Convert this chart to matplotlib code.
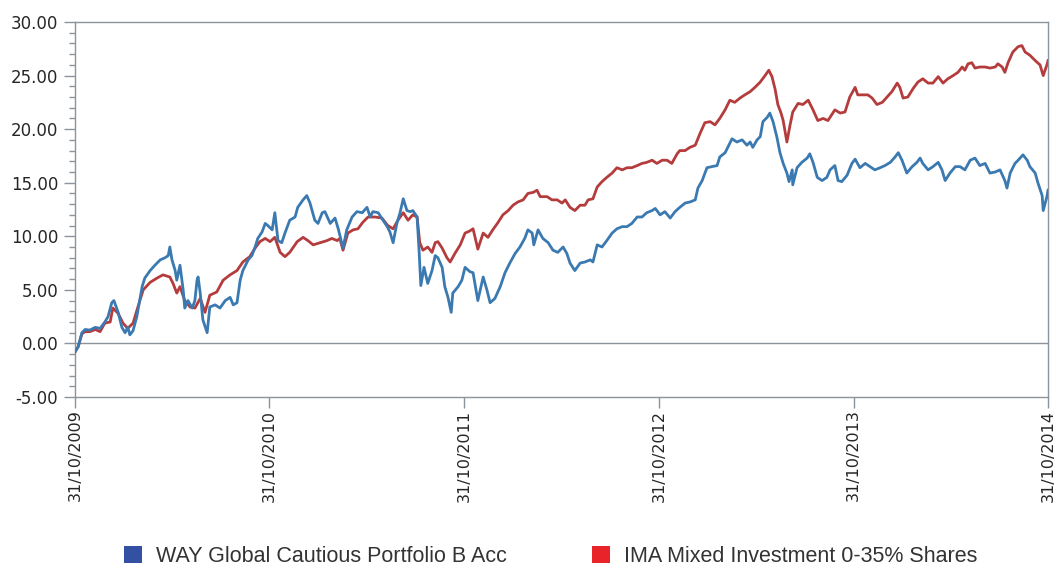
import datetime as dt
import matplotlib
matplotlib.use("Agg")
import matplotlib.pyplot as plt
from matplotlib.patches import Patch
from matplotlib.ticker import MultipleLocator, FuncFormatter

start_date = dt.date(2009, 10, 31)
tick_labels = ["31/10/2009", "31/10/2010", "31/10/2011", "31/10/2012", "31/10/2013", "31/10/2014"]
tick_dates = [dt.date(2009, 10, 31), dt.date(2010, 10, 31), dt.date(2011, 10, 31),
              dt.date(2012, 10, 31), dt.date(2013, 10, 31), dt.date(2014, 10, 31)]

series_names = ["WAY Global Cautious Portfolio B Acc", "IMA Mixed Investment 0-35% Shares"]

# days after 31/10/2009 and cumulative % performance
way_days = [0, 6, 13, 19, 28, 38, 47, 56, 62, 69, 73, 81, 88, 94, 99, 103, 109, 116, 126, 131,
            141, 150, 160, 169, 175, 178, 182, 188, 191, 197, 203, 206, 212, 220, 225, 229, 231, 235, 240, 248,
            253, 263, 272, 282, 291, 297, 304, 310, 315, 325, 332, 338, 343, 351, 357, 362, 370, 375, 381, 388,
            394, 403, 413, 418, 428, 435, 441, 450, 456, 464, 469, 479, 488, 494, 503, 510, 520, 529, 539, 548,
            554, 559, 569, 578, 586, 591, 597, 604, 610, 616, 623, 629, 634, 642, 646, 649, 655, 662, 670, 676,
            681, 689, 694, 700, 706, 709, 719, 726, 732, 741, 747, 756, 766, 773, 779, 788, 798, 807, 816, 826,
            835, 844, 850, 858, 861, 869, 878, 888, 897, 906, 916, 923, 929, 938, 948, 957, 967, 972, 980, 989,
            998, 1008, 1017, 1027, 1036, 1045, 1055, 1064, 1073, 1083, 1089, 1098, 1107, 1117, 1126, 1135, 1145, 1154, 1164, 1169,
            1177, 1186, 1195, 1205, 1210, 1220, 1225, 1233, 1242, 1252, 1261, 1267, 1272, 1280, 1286, 1291, 1299, 1304, 1310, 1317,
            1323, 1329, 1336, 1340, 1346, 1347, 1355, 1364, 1374, 1379, 1385, 1393, 1402, 1411, 1417, 1426, 1432, 1439, 1449, 1458,
            1464, 1473, 1483, 1492, 1501, 1511, 1520, 1530, 1539, 1545, 1552, 1561, 1571, 1580, 1586, 1591, 1601, 1610, 1620, 1627,
            1633, 1642, 1652, 1661, 1670, 1680, 1689, 1698, 1708, 1717, 1727, 1736, 1745, 1749, 1755, 1764, 1770, 1779, 1787, 1792,
            1802, 1807, 1815, 1817, 1824, 1826]
way_values = [-0.8, -0.3, 1.0, 1.3, 1.25, 1.5, 1.4, 2.0, 2.5, 3.8, 4.0, 2.9, 1.5, 1.0, 1.5, 0.8, 1.2, 2.5, 5.3, 6.1,
              6.8, 7.3, 7.8, 8.0, 8.2, 9.0, 7.8, 6.8, 5.9, 7.3, 5.0, 3.3, 4.0, 3.3, 4.0, 5.9, 6.2, 4.7, 2.2, 1.0,
              3.4, 3.6, 3.3, 4.0, 4.3, 3.6, 3.8, 5.9, 6.8, 7.8, 8.2, 9.0, 9.8, 10.4, 11.2, 11.0, 10.6, 12.2, 9.6, 9.4,
              10.3, 11.5, 11.8, 12.7, 13.4, 13.8, 13.1, 11.5, 11.2, 12.2, 12.3, 11.2, 11.7, 10.7, 8.9, 10.6, 11.8, 12.3, 12.2, 12.7,
              11.8, 12.3, 12.2, 11.5, 10.9, 10.4, 9.4, 11.2, 12.2, 13.5, 12.4, 12.3, 12.4, 11.8, 8.4, 5.4, 7.1, 5.6, 6.8, 8.2,
              8.0, 7.1, 5.3, 4.3, 2.9, 4.7, 5.3, 5.9, 7.1, 6.7, 6.6, 4.0, 6.2, 5.0, 3.8, 4.2, 5.3, 6.6, 7.5, 8.4,
              9.0, 9.8, 10.6, 10.3, 9.2, 10.6, 9.8, 9.4, 8.7, 8.5, 9.0, 8.4, 7.5, 6.8, 7.5, 7.6, 7.8, 7.6, 9.2, 9.0,
              9.6, 10.3, 10.7, 10.9, 10.9, 11.2, 11.8, 11.8, 12.2, 12.4, 12.6, 12.0, 12.3, 11.7, 12.3, 12.7, 13.1, 13.2, 13.4, 14.5,
              15.2, 16.4, 16.5, 16.6, 17.4, 17.8, 18.3, 19.1, 18.8, 19.0, 18.5, 18.8, 18.3, 19.0, 19.3, 20.7, 21.1, 21.5, 20.7, 19.3,
              17.8, 16.8, 15.9, 15.1, 16.2, 14.8, 16.4, 16.9, 17.3, 17.7, 16.9, 15.5, 15.2, 15.5, 16.2, 16.6, 15.2, 15.1, 15.7, 16.8,
              17.2, 16.4, 16.8, 16.5, 16.2, 16.4, 16.6, 16.9, 17.4, 17.8, 17.1, 15.9, 16.5, 16.9, 17.3, 16.8, 16.2, 16.5, 16.9, 16.2,
              15.2, 15.9, 16.5, 16.5, 16.2, 17.1, 17.3, 16.6, 16.8, 15.9, 16.0, 16.2, 15.2, 14.5, 15.9, 16.8, 17.1, 17.6, 17.1, 16.5,
              15.9, 15.0, 13.8, 12.4, 13.7, 14.3]

ima_days = [0, 6, 13, 19, 28, 38, 47, 56, 66, 71, 81, 90, 99, 109, 118, 128, 141, 154, 165, 178,
            184, 191, 197, 206, 216, 225, 235, 244, 253, 266, 278, 291, 304, 315, 328, 338, 347, 357, 366, 375,
            385, 394, 403, 417, 428, 437, 447, 460, 473, 482, 492, 497, 503, 512, 522, 531, 540, 550, 563, 576,
            587, 597, 606, 616, 625, 634, 642, 647, 653, 662, 670, 676, 681, 689, 698, 704, 713, 723, 732, 741,
            747, 756, 766, 775, 784, 794, 803, 813, 822, 831, 841, 850, 860, 867, 873, 886, 895, 905, 914, 920,
            929, 938, 948, 957, 963, 972, 980, 989, 998, 1008, 1017, 1027, 1036, 1045, 1055, 1064, 1073, 1083, 1092, 1102,
            1111, 1120, 1130, 1135, 1145, 1154, 1164, 1173, 1182, 1192, 1201, 1210, 1220, 1229, 1238, 1248, 1257, 1267, 1276, 1286,
            1295, 1302, 1308, 1314, 1319, 1325, 1329, 1336, 1342, 1347, 1357, 1366, 1376, 1385, 1394, 1404, 1413, 1426, 1436, 1445,
            1454, 1464, 1469, 1479, 1488, 1496, 1505, 1515, 1524, 1533, 1543, 1548, 1554, 1563, 1573, 1582, 1591, 1601, 1610, 1620,
            1629, 1638, 1648, 1657, 1665, 1670, 1676, 1683, 1689, 1698, 1708, 1717, 1727, 1732, 1740, 1745, 1751, 1760, 1770, 1777,
            1783, 1792, 1802, 1811, 1817, 1824, 1826]
ima_values = [-0.8, -0.3, 0.9, 1.1, 1.1, 1.3, 1.1, 1.9, 2.0, 3.3, 2.8, 1.9, 1.4, 1.9, 3.4, 5.0, 5.7, 6.1, 6.4, 6.2,
              5.6, 4.7, 5.3, 4.0, 3.4, 3.3, 4.2, 2.9, 4.5, 4.8, 5.9, 6.4, 6.8, 7.6, 8.1, 8.9, 9.5, 9.8, 9.5, 9.9,
              8.5, 8.1, 8.5, 9.5, 9.9, 9.6, 9.2, 9.4, 9.6, 9.8, 9.6, 9.8, 8.7, 10.3, 10.6, 10.7, 11.3, 11.8, 11.8, 11.7,
              11.0, 10.7, 11.5, 12.2, 11.5, 12.0, 11.8, 9.4, 8.7, 9.0, 8.5, 9.4, 9.5, 8.9, 8.0, 7.6, 8.4, 9.2, 10.3, 10.5,
              10.7, 8.8, 10.3, 9.9, 10.6, 11.3, 12.0, 12.4, 12.9, 13.2, 13.4, 14.0, 14.1, 14.3, 13.7, 13.7, 13.4, 13.4, 13.1, 13.4,
              12.7, 12.4, 12.9, 12.9, 13.4, 13.5, 14.6, 15.1, 15.5, 15.9, 16.4, 16.2, 16.4, 16.4, 16.6, 16.8, 16.9, 17.1, 16.8, 17.1,
              17.1, 16.8, 17.7, 18.0, 18.0, 18.3, 18.5, 19.6, 20.6, 20.7, 20.4, 21.0, 21.8, 22.7, 22.5, 22.9, 23.2, 23.5, 23.9, 24.4,
              25.0, 25.5, 24.9, 23.7, 22.3, 21.5, 20.8, 18.8, 20.4, 21.6, 22.4, 22.3, 22.7, 21.8, 20.8, 21.0, 20.8, 21.8, 21.5, 21.6,
              23.0, 23.9, 23.2, 23.2, 23.2, 22.9, 22.3, 22.5, 23.0, 23.5, 24.3, 23.9, 22.9, 23.0, 23.8, 24.4, 24.7, 24.3, 24.3, 24.9,
              24.3, 24.7, 25.0, 25.3, 25.8, 25.5, 26.1, 26.2, 25.7, 25.8, 25.8, 25.7, 25.8, 26.1, 25.8, 25.3, 26.2, 27.2, 27.7, 27.8,
              27.2, 26.9, 26.4, 26.0, 25.0, 26.0, 26.4]

y_min, y_max, y_step = -5, 30, 5

line_colors = ["#3b79b1", "#b53c3c"]
legend_colors = ["#3450a2", "#e8242a"]
axis_color = "#8c939c"
text_color = "#262626"

W, H, DPI = 1059, 566, 100
fig = plt.figure(figsize=(W / DPI, H / DPI), dpi=DPI)
ax = fig.add_axes([75 / W, 1 - 397 / H, (1048 - 75) / W, (397 - 22) / H])

def to_dates(days):
    return [start_date + dt.timedelta(days=d) for d in days]

ax.axhline(0, color=axis_color, lw=1.0, zorder=1)
ax.plot(to_dates(way_days), way_values, color=line_colors[0], lw=2.0, zorder=3, solid_joinstyle="round")
ax.plot(to_dates(ima_days), ima_values, color=line_colors[1], lw=2.0, zorder=2, solid_joinstyle="round")

ax.set_xlim(tick_dates[0], tick_dates[-1])
ax.set_ylim(y_min, y_max)
ax.set_xticks(tick_dates)
ax.set_xticklabels(tick_labels, rotation=90)
ax.yaxis.set_major_locator(MultipleLocator(y_step))
ax.yaxis.set_minor_locator(MultipleLocator(1))
ax.yaxis.set_major_formatter(FuncFormatter(lambda v, p: f"{v:.2f}"))
ax.tick_params(axis="y", which="major", length=8, width=1, color=axis_color, pad=4, labelsize=12, labelcolor=text_color)
ax.tick_params(axis="y", which="minor", length=4, width=1, color=axis_color)
ax.tick_params(axis="x", which="major", length=8, width=1, color=axis_color, pad=1, labelsize=11.5, labelcolor=text_color)
for s in ax.spines.values():
    s.set_color(axis_color)
    s.set_linewidth(1.0)

fs = 15.5
handles = [Patch(facecolor=legend_colors[0], edgecolor="none"),
           Patch(facecolor=legend_colors[1], edgecolor="none")]
leg = fig.legend(handles, series_names, loc="center", bbox_to_anchor=(551 / W, 1 - 556 / H),
                 ncol=2, frameon=False, borderpad=0, borderaxespad=0,
                 handlelength=0.84, handleheight=0.84, handletextpad=0.65, columnspacing=3.95,
                 prop={"family": "Liberation Sans", "size": fs})
for t in leg.get_texts():
    t.set_color("#333333")

fig.savefig("out.png", dpi=DPI)
